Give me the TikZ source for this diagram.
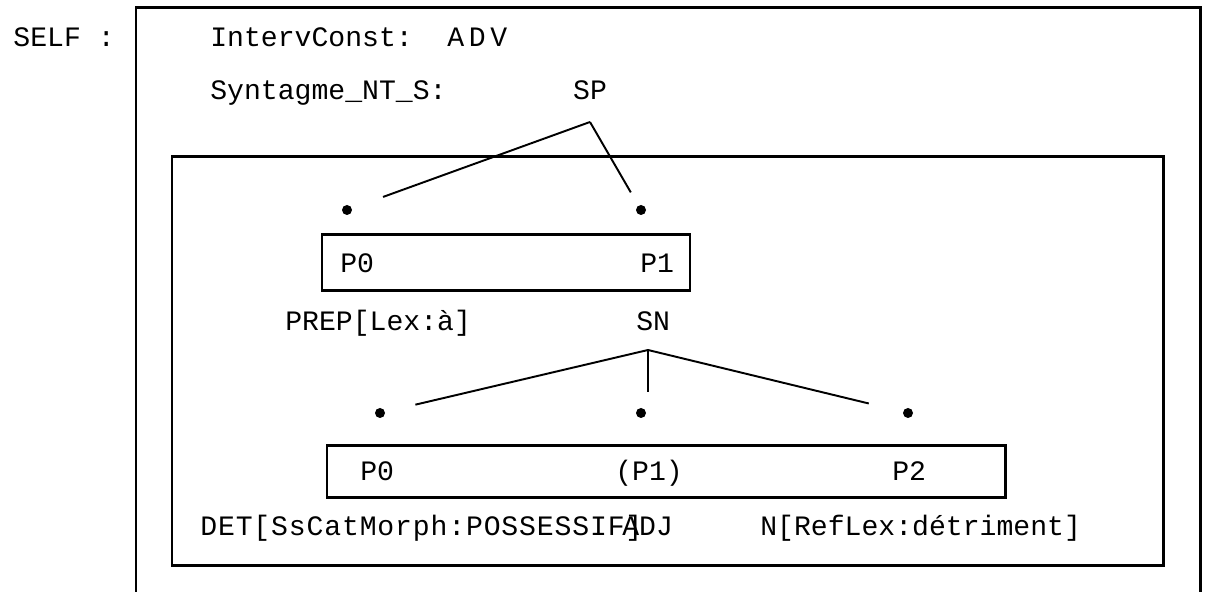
\documentclass[tikz,border=0pt]{standalone}
\usepackage{fontspec}
\setmonofont{Liberation Mono}
\newfontfamily\widemono[LetterSpace=3]{Liberation Mono}

\tikzset{
  frame/.style={line width=1.7pt},
  leg/.style={line width=1.1pt},
  dot/.style={circle,fill,inner sep=0pt,minimum size=0.2cm},
  lbl/.style={font=\ttfamily\fontsize{16}{19}\selectfont,inner sep=0pt,anchor=base west},
}

\begin{document}
\begin{tikzpicture}[line join=miter]
  \useasboundingbox (0,0) rectangle (24.18,11.84);
  % 外框，下方开口
  \draw[frame] (2.72,0) -- (2.72,11.68) -- (24.00,11.68) -- (24.00,0);
  \node[lbl,anchor=base east] (self) at (2.30,10.90) {SELF :};
  \node[lbl] (intconst) at (4.20,10.90) {IntervConst:};
  \node[lbl] (adv) at (8.94,10.90) {A\,D\,V};
  \node[lbl] (syntag) at (4.20,9.84) {Syntagme\_NT\_S:};
  \node[lbl,anchor=base] (sp) at (11.80,9.84) {SP};
  % 内框
  \draw[frame] (3.44,0.52) rectangle (23.26,8.70);
  % SP 两个位置
  \coordinate (sp-root) at (11.80,9.40);
  \node[dot] (sp-d0) at (6.94,7.64) {};
  \node[dot] (sp-d1) at (12.82,7.64) {};
  \draw[leg,shorten >=0.66cm] (sp-root) -- (sp-d0);
  \draw[leg,shorten >=0.30cm] (sp-root) -- (sp-d1);
  \node[draw,frame,inner sep=0pt,minimum width=7.36cm,minimum height=1.12cm] (sp-box) at (10.12,6.58) {};
  \node[lbl] (sp-p0) at (6.80,6.38) {P0};
  \node[lbl] (sp-p1) at (12.80,6.38) {P1};
  \node[lbl] (prep) at (5.70,5.22) {PREP[Lex:à]};
  \node[lbl] (sn) at (12.72,5.22) {SN};
  % SN 三个位置
  \coordinate (sn-root) at (12.96,4.84);
  \node[dot] (sn-d0) at (7.60,3.58) {};
  \node[dot] (sn-d1) at (12.82,3.58) {};
  \node[dot] (sn-d2) at (18.16,3.58) {};
  \draw[leg,shorten >=0.62cm] (sn-root) -- (sn-d0);
  \draw[line width=0.8pt,shorten >=0.42cm] (sn-root) -- (sn-root |- sn-d1);
  \draw[leg,shorten >=0.70cm] (sn-root) -- (sn-d2);
  \node[draw,frame,inner sep=0pt,minimum width=13.56cm,minimum height=1.04cm] (sn-box) at (13.32,2.40) {};
  \node[lbl] (sn-p0) at (7.20,2.22) {P0};
  \node[lbl] (sn-p1) at (12.30,2.22) {(P1)};
  \node[lbl] (sn-p2) at (17.84,2.22) {P2};
  \node[lbl,font=\widemono\fontsize{16}{19}\selectfont] (det) at (4.00,1.12) {DET[SsCatMorph:POSSESSIF]};
  \node[lbl] (adj) at (12.44,1.12) {ADJ};
  \node[lbl] (noun) at (15.20,1.12) {N[RefLex:détriment]};
\end{tikzpicture}
\end{document}
